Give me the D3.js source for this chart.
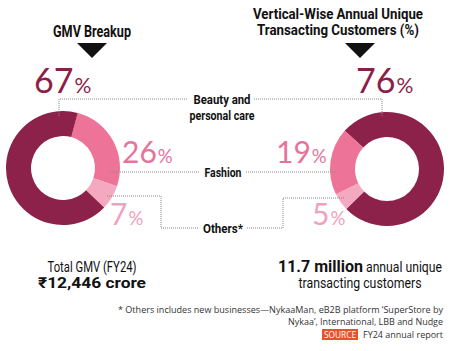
<!DOCTYPE html>
<html><head><meta charset="utf-8">
<script src="https://cdn.jsdelivr.net/npm/d3@7"></script>
<style>
body{margin:0;background:#fff}
.cond{font-family:"Roboto","Liberation Sans",sans-serif}
.num{font-family:"Lato","Open Sans",sans-serif;font-weight:400}
.foot{font-family:"Open Sans","DejaVu Sans",sans-serif}
</style></head>
<body>
<svg id="c" width="450" height="351"></svg>
<script>
const categories = ["Beauty and personal care", "Fashion", "Others*"];
const gmvValues = [67, 26, 7];
const customerValues = [76, 19, 5];
const colors = ["#8c2249", "#ee7399", "#f4a9c0"];
const textColors = ["#8c1f48", "#e6739b", "#f0a2bc"];

const svg = d3.select("#c");
const R = 57, r = 32;
const arc = d3.arc().innerRadius(r).outerRadius(R);

function donut(cx, cy, values, order, start) {
  const data = order.map(i => ({i, v: values[i]}));
  const pie = d3.pie().value(d => d.v).sort(null)
    .startAngle(start).endAngle(start + 2 * Math.PI);
  const g = svg.append("g").attr("transform", `translate(${cx},${cy})`);
  g.selectAll("path").data(pie(data)).join("path")
    .attr("d", arc).attr("fill", d => colors[d.data.i]);
}
donut(63, 168, gmvValues, [1, 2, 0], 15 * Math.PI / 180);
donut(387, 169, customerValues, [0, 2, 1], -48 * Math.PI / 180);

// text helper: fits to a target width
function txt(x, y, s, opt) {
  const t = svg.append("text").attr("x", x).attr("y", y)
    .attr("text-anchor", opt.anchor || "start")
    .attr("font-size", opt.size).attr("fill", opt.fill || "#111")
    .attr("font-weight", opt.bold ? "bold" : "normal")
    .attr("class", opt.cls || "cond").text(s);
  if (opt.ff) t.attr("font-family", opt.ff);
  if (opt.w) t.attr("textLength", opt.w).attr("lengthAdjust", "spacingAndGlyphs");
  return t;
}

// titles
txt(92, 37, "GMV Breakup", {anchor: "middle", size: 16, bold: true, w: 78});
txt(338, 19, "Vertical-Wise Annual Unique", {anchor: "middle", size: 15.5, bold: true, w: 170});
txt(338, 35, "Transacting Customers (%)", {anchor: "middle", size: 15.5, bold: true, w: 162});
[[92, 43], [360, 43]].forEach(([x, y]) => {
  svg.append("path").attr("d", `M${x - 15},${y}L${x + 15},${y}L${x},${y + 15}Z`).attr("fill", "#111");
});

// percent labels
function pct(x, y, val, size, color) {
  const t = svg.append("text").attr("class", "num").attr("x", x).attr("y", y).attr("fill", color);
  t.append("tspan").attr("font-size", size).text(val);
  t.append("tspan").attr("font-size", size * 0.62).attr("dx", 1).text("%");
}
pct(34, 93, gmvValues[0], 34, textColors[0]);
pct(356, 93, customerValues[0], 34, textColors[0]);
pct(122, 163, gmvValues[1], 30, textColors[1]);
pct(276, 163, customerValues[1], 30, textColors[1]);
pct(110, 225, gmvValues[2], 30, textColors[2]);
pct(312, 225, customerValues[2], 30, textColors[2]);

// dotted leader lines
const lines = [
  [[59, 116], [59, 99], [188, 99]],
  [[254, 99], [382, 99], [382, 117]],
  [[110, 172], [200, 172]],
  [[246, 172], [336, 172]],
  [[107, 196], [161, 196], [161, 228], [199, 228]],
  [[247, 228], [283, 228], [283, 198], [345, 198]]
];
const line = d3.line();
lines.forEach(p => svg.append("path").attr("d", line(p)).attr("fill", "none")
  .attr("stroke", "#888").attr("stroke-width", 1).attr("stroke-dasharray", "1,1"));

// category labels
txt(222, 104, "Beauty and", {anchor: "middle", size: 13, bold: true, w: 57});
txt(222, 120, "personal care", {anchor: "middle", size: 13, bold: true, w: 65});
txt(223, 177, categories[1], {anchor: "middle", size: 13, bold: true, w: 37});
txt(223, 233, categories[2], {anchor: "middle", size: 13, bold: true, w: 40});

// bottom totals
txt(92, 272, "Total GMV (FY24)", {anchor: "middle", size: 14, w: 89});
txt(92, 288, "₹12,446 crore", {anchor: "middle", size: 15, bold: true, ff: "Liberation Sans, Arial, sans-serif", w: 108});
txt(278, 272, "11.7 million", {size: 16, bold: true, ff: "Liberation Sans, Arial, sans-serif", w: 85});
txt(366, 272, "annual unique", {size: 14, w: 76});
txt(360, 288, "transacting customers", {anchor: "middle", size: 14, w: 123});

// footnote
txt(443, 313, "* Others includes new businesses\u2014NykaaMan, eB2B platform \u2018SuperStore by",
  {anchor: "end", size: 8.8, cls: "foot", fill: "#333", w: 325});
txt(443, 324.5, "Nykaa\u2019, International, LBB and Nudge", {anchor: "end", size: 8.8, cls: "foot", fill: "#333", w: 155});
svg.append("rect").attr("x", 322).attr("y", 329).attr("width", 36).attr("height", 11).attr("fill", "#e8522a");
txt(340, 337.8, "SOURCE", {anchor: "middle", size: 8.5, cls: "foot", fill: "#fff", w: 32});
txt(443, 338, "FY24 annual report", {anchor: "end", size: 8.8, cls: "foot", fill: "#333", w: 80});
</script>
</body></html>
